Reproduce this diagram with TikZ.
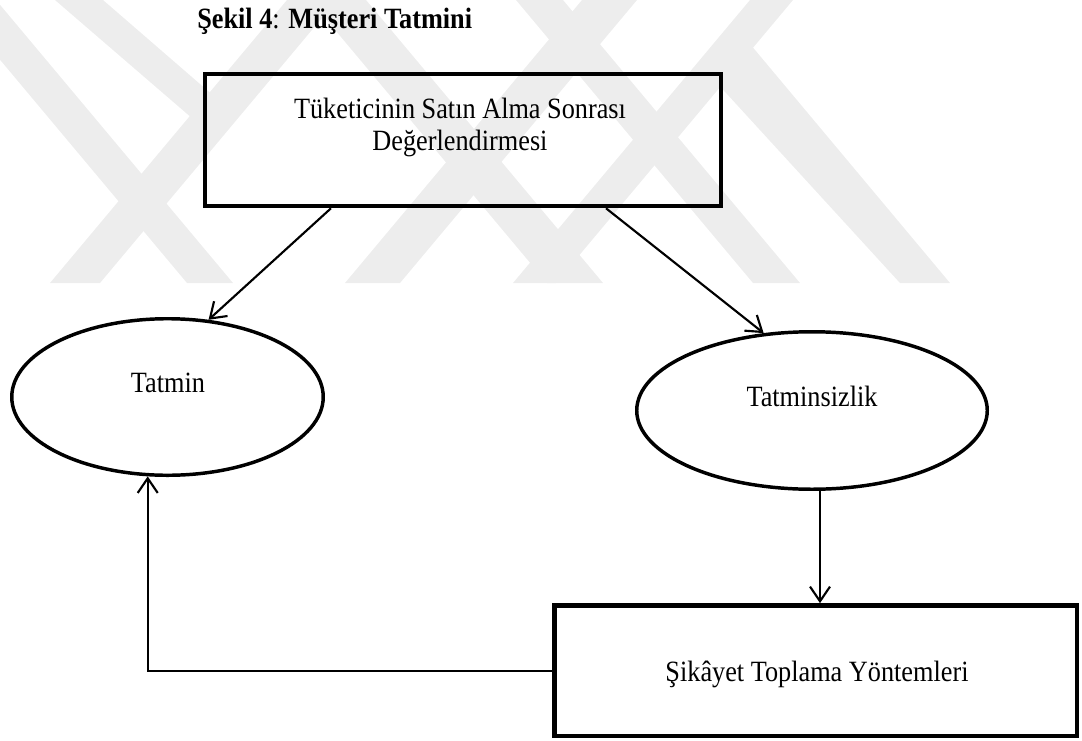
\documentclass[tikz,border=0pt]{standalone}
\usepackage{fontspec}
\setmainfont{Liberation Serif}
\usetikzlibrary{shapes.geometric,arrows.meta,calc}
\definecolor{wm}{gray}{0.93}
\newcommand{\tall}[1]{\scalebox{1}[1.12]{#1}}
\begin{document}
\begin{tikzpicture}[x=0.75pt,y=-0.75pt,
  txt/.style={font=\fontsize{19.7}{23.6}\selectfont, inner sep=0pt},
  boxnode/.style={draw, rectangle, line width=3.4pt, inner sep=0pt},
  ovalnode/.style={draw, ellipse, line width=2.6pt, inner sep=0pt},
  conn/.style={line width=1.6pt, -{Straight Barb[length=11pt,width=15pt]}},
  band/.style={fill=wm, draw=none}]
\useasboundingbox (0,0) rectangle (1082,740);
% watermark
\begin{scope}
\clip (0,0) rectangle (1082,283);
\fill[band] (50,283) -- (100,283) -- (337,0) -- (287,0) -- cycle;
\fill[band] (187,283) -- (233,283) -- (-4,0) -- (-50,0) -- cycle;
\fill[band] (55,0) -- (103,0) -- (230,110) -- (200,125) -- cycle;
\fill[band] (345,283) -- (400,283) -- (637,0) -- (582,0) -- cycle;
\fill[band] (547,283) -- (603,283) -- (366,0) -- (310,0) -- cycle;
\fill[band] (513,283) -- (556,283) -- (793,0) -- (750,0) -- cycle;
\fill[band] (900,283) -- (950,283) -- (745,38) -- (705,70) -- cycle;
\fill[band] (753,283) -- (800,283) -- (563,0) -- (516,0) -- cycle;
\end{scope}
% title
\node[txt, anchor=base west] (title) at (197,28) {\tall{\textbf{Şekil 4}: \textbf{Müşteri Tatmini}}};
% shapes
\node[boxnode, minimum width=387pt, minimum height=99pt] (top) at (463,140) {};
\node[txt, anchor=base] (topa) at (460,118) {\tall{Tüketicinin Satın Alma Sonrası}};
\node[txt, anchor=base] (topb) at (460,150) {\tall{Değerlendirmesi}};
\node[ovalnode, minimum width=233.6pt, minimum height=117.4pt] (tatmin) at (167.5,397) {};
\node[txt, anchor=base] (tatmint) at (168,392) {\tall{Tatmin}};
\node[ovalnode, minimum width=262.9pt, minimum height=118.1pt] (dis) at (812,410.5) {};
\node[txt, anchor=base] (dist) at (812,406) {\tall{Tatminsizlik}};
\node[boxnode, minimum width=392pt, minimum height=98pt] (sik) at (815.75,670.75) {};
\node[txt, anchor=base] (sikt) at (817,681) {\tall{Şikâyet Toplama Yöntemleri}};
% connectors
\draw[conn] ($(top.south)+(-132,0)$) -- (tatmin.62);
\draw[conn] ($(top.south)+(143,0)$) -- (dis.122);
\coordinate (d3) at ($(dis.south)+(8,0)$);
\draw[conn] (d3) -- (d3 |- sik.north);
\draw[conn] (sik.west) -| (tatmin.256);
\end{tikzpicture}
\end{document}
